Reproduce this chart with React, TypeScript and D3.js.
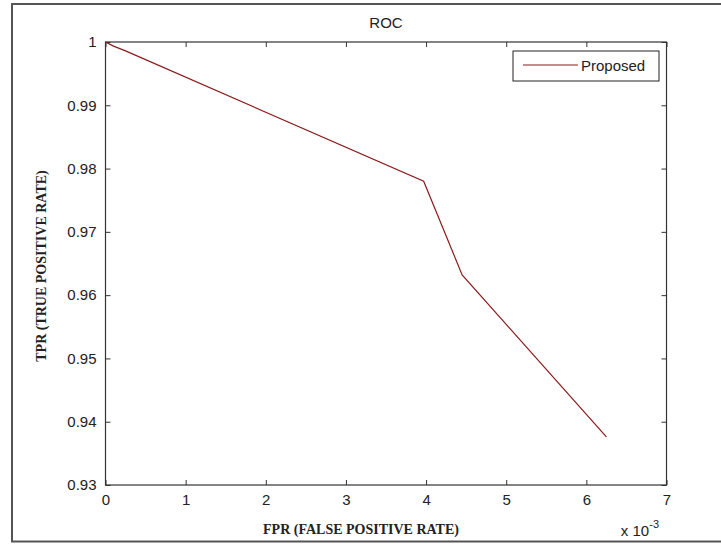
import * as d3 from "d3";
import React, { useEffect, useRef } from "react";

// values
const fpr = [0, 0.0001, 0.00025, 0.00397, 0.00445, 0.00625];
const tpr = [1, 0.99935, 0.9986, 0.978, 0.9632, 0.9376];
const xTicks = [0, 0.001, 0.002, 0.003, 0.004, 0.005, 0.006, 0.007];
const xTickLabels = ["0", "1", "2", "3", "4", "5", "6", "7"];
const yTicks = [0.93, 0.94, 0.95, 0.96, 0.97, 0.98, 0.99, 1];
const yTickLabels = ["0.93", "0.94", "0.95", "0.96", "0.97", "0.98", "0.99", "1"];
const seriesName = "Proposed";

export default function App() {
  const ref = useRef<SVGSVGElement | null>(null);

  useEffect(() => {
    const width = 721;
    const height = 544;
    const margin = { top: 42, right: 54.5, bottom: 59, left: 105.5 };
    const innerW = width - margin.left - margin.right;
    const innerH = height - margin.top - margin.bottom;
    const sans = "'Liberation Sans', Arial, sans-serif";
    const serif = "'Liberation Serif', 'Times New Roman', serif";
    const axisColor = "#333";
    const lineColor = "#8b1a1a";

    const svg = d3.select(ref.current);
    svg.selectAll("*").remove();

    svg.append("rect").attr("width", width).attr("height", height).attr("fill", "#fff");

    // frame of the screenshot
    svg.append("rect")
      .attr("x", 12)
      .attr("y", 4)
      .attr("width", width)
      .attr("height", 537.5)
      .attr("fill", "none")
      .attr("stroke", "#555")
      .attr("stroke-width", 2);

    const x = d3.scaleLinear().domain([0, 0.007]).range([0, innerW]);
    const y = d3.scaleLinear().domain([0.93, 1]).range([innerH, 0]);

    const g = svg.append("g").attr("transform", `translate(${margin.left},${margin.top})`);

    // ticks point inward, on all four sides (box on)
    const styleAxis = (sel: any) => {
      sel.select(".domain").remove();
      sel.selectAll(".tick line").attr("stroke", axisColor);
      sel.selectAll(".tick text")
        .attr("fill", "#222")
        .style("font-family", sans)
        .style("font-size", "15px");
    };

    g.append("g")
      .attr("transform", `translate(0,${innerH})`)
      .call(d3.axisBottom(x).tickValues(xTicks).tickSize(-5).tickPadding(9)
        .tickFormat((d, i) => xTickLabels[i]))
      .call(styleAxis);

    g.append("g")
      .call(d3.axisTop(x).tickValues(xTicks).tickSize(-5).tickFormat(() => ""))
      .call(styleAxis);

    g.append("g")
      .call(d3.axisLeft(y).tickValues(yTicks).tickSize(-5).tickPadding(9)
        .tickFormat((d, i) => yTickLabels[i]))
      .call(styleAxis);

    g.append("g")
      .attr("transform", `translate(${innerW},0)`)
      .call(d3.axisRight(y).tickValues(yTicks).tickSize(-5).tickFormat(() => ""))
      .call(styleAxis);

    g.append("rect")
      .attr("width", innerW)
      .attr("height", innerH)
      .attr("fill", "none")
      .attr("stroke", axisColor)
      .attr("stroke-width", 1.2);

    const pts = fpr.map((f, i) => [f, tpr[i]] as [number, number]);
    const line = d3.line<[number, number]>()
      .x(d => x(d[0]))
      .y(d => y(d[1]));

    g.append("path")
      .datum(pts)
      .attr("fill", "none")
      .attr("stroke", lineColor)
      .attr("stroke-width", 1.2)
      .attr("d", line);

    // legend
    const lx = 513 - margin.left;
    const ly = 51 - margin.top;
    const legend = g.append("g").attr("transform", `translate(${lx},${ly})`);
    legend.append("rect")
      .attr("width", 146)
      .attr("height", 30)
      .attr("fill", "#fff")
      .attr("stroke", "#222")
      .attr("stroke-width", 1);
    legend.append("line")
      .attr("x1", 10).attr("x2", 65)
      .attr("y1", 14).attr("y2", 14)
      .attr("stroke", lineColor)
      .attr("stroke-width", 1.2);
    legend.append("text")
      .attr("x", 68)
      .attr("y", 19.5)
      .attr("fill", "#222")
      .style("font-family", sans)
      .style("font-size", "15px")
      .text(seriesName);

    // title
    svg.append("text")
      .attr("x", margin.left + innerW / 2)
      .attr("y", 28)
      .attr("text-anchor", "middle")
      .attr("fill", "#222")
      .style("font-family", sans)
      .style("font-size", "15px")
      .text("ROC");

    // axis labels
    svg.append("text")
      .attr("x", 361)
      .attr("y", 534)
      .attr("text-anchor", "middle")
      .attr("fill", "#222")
      .style("font-family", serif)
      .style("font-weight", "bold")
      .style("font-size", "14px")
      .text("FPR (FALSE POSITIVE RATE)");

    svg.append("text")
      .attr("transform", "rotate(-90)")
      .attr("x", -266)
      .attr("y", 46)
      .attr("text-anchor", "middle")
      .attr("fill", "#222")
      .style("font-family", serif)
      .style("font-weight", "bold")
      .style("font-size", "14px")
      .text("TPR (TRUE POSITIVE RATE)");

    // exponent of the x axis
    const ex = svg.append("text")
      .attr("x", 659)
      .attr("y", 536)
      .attr("text-anchor", "end")
      .attr("fill", "#222")
      .style("font-family", sans)
      .style("font-size", "15px");
    ex.append("tspan").text("x 10");
    ex.append("tspan")
      .attr("dy", -8)
      .style("font-size", "11px")
      .text("-3");
  }, []);

  return (
    <svg
      ref={ref}
      width={721}
      height={544}
      style={{ position: "absolute", left: 0, top: 0, display: "block" }}
    />
  );
}
